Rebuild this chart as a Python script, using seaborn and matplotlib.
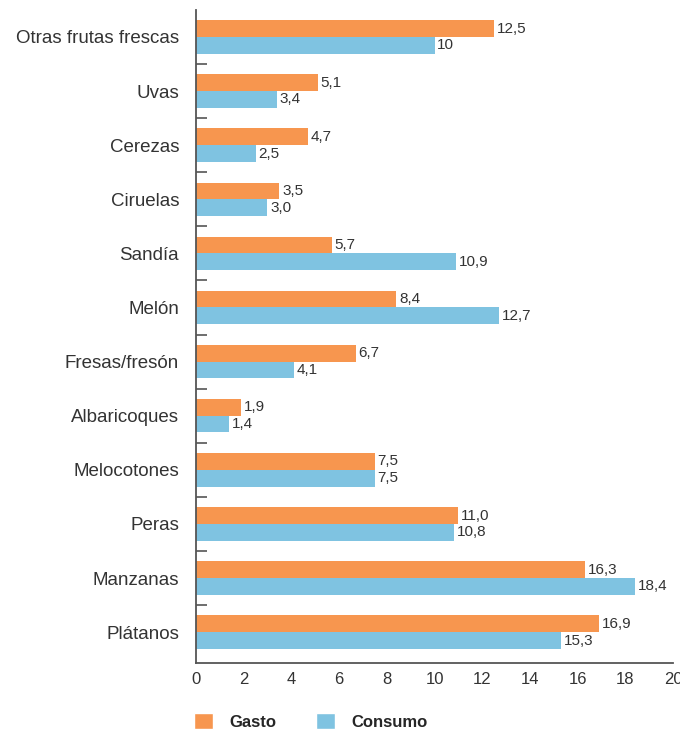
import numpy as np
import pandas as pd
import matplotlib
matplotlib.use("Agg")
import matplotlib.pyplot as plt
import seaborn as sns
from matplotlib.patches import Patch

frutas = ['Otras frutas frescas', 'Uvas', 'Cerezas', 'Ciruelas', 'Sandía', 'Melón',
          'Fresas/fresón', 'Albaricoques', 'Melocotones', 'Peras', 'Manzanas', 'Plátanos']
gasto = [12.5, 5.1, 4.7, 3.5, 5.7, 8.4, 6.7, 1.9, 7.5, 11.0, 16.3, 16.9]
consumo = [10.0, 3.4, 2.5, 3.0, 10.9, 12.7, 4.1, 1.4, 7.5, 10.8, 18.4, 15.3]
gasto_txt = ['12,5', '5,1', '4,7', '3,5', '5,7', '8,4', '6,7', '1,9', '7,5', '11,0', '16,3', '16,9']
consumo_txt = ['10', '3,4', '2,5', '3,0', '10,9', '12,7', '4,1', '1,4', '7,5', '10,8', '18,4', '15,3']
series = ['Gasto', 'Consumo']
colores = ['#F7964F', '#7FC3E1']

df = pd.DataFrame({
    'fruta': frutas * 2,
    'valor': gasto + consumo,
    'serie': [series[0]] * len(frutas) + [series[1]] * len(frutas),
})

sns.set_theme(style='white')
plt.rcParams['font.family'] = ['Liberation Sans', 'DejaVu Sans']

fig = plt.figure(figsize=(6.8, 7.33), dpi=100)
ax = fig.add_axes([0.288, 0.0955, 0.702, 0.891])

sns.barplot(data=df, y='fruta', x='valor', hue='serie', order=frutas, hue_order=series,
            palette=colores, width=0.62, orient='h', ax=ax, legend=False, saturation=1,
            linewidth=0)

for cont, txt in zip(ax.containers, [gasto_txt, consumo_txt]):
    ax.bar_label(cont, labels=txt, padding=2, fontsize=11, color='#333333')

ax.set_xlim(0, 20)
ax.set_ylim(len(frutas) - 0.43, -0.5)
ax.set_xticks(np.arange(0, 21, 2))
ax.set_xlabel('')
ax.set_ylabel('')

for s in ['top', 'right']:
    ax.spines[s].set_visible(False)
for s in ['left', 'bottom']:
    ax.spines[s].set_color('#555555')
    ax.spines[s].set_linewidth(1.3)

ax.tick_params(axis='x', direction='in', length=7, width=1.2, color='#555555',
               labelsize=12, labelcolor='#333333', pad=6.5)
ax.tick_params(axis='y', length=0, labelsize=13.5, labelcolor='#333333', pad=12)
ax.set_yticks(np.arange(len(frutas) - 1) + 0.5, minor=True)
ax.tick_params(axis='y', which='minor', direction='in', length=8, width=1.2, color='#555555', left=True)

handles = [Patch(facecolor=c, label=s) for c, s in zip(colores, series)]
fig.legend(handles=handles, loc='lower left', bbox_to_anchor=(0.281, 0.0), ncol=2, frameon=False,
           handlelength=1.1, handleheight=1.1, handletextpad=1.0, columnspacing=2.4,
           borderpad=0.1, borderaxespad=0.1, prop={'weight': 'bold', 'size': 12})

fig.savefig('out.png', dpi=100)
